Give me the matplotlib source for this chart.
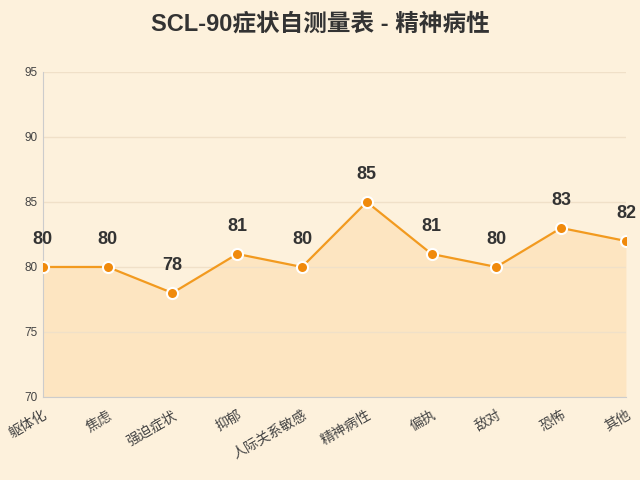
import matplotlib
matplotlib.use("Agg")
import matplotlib.pyplot as plt

plt.rcParams['font.family'] = ['Liberation Sans', 'Noto Sans CJK SC', 'DejaVu Sans']

categories = ["躯体化", "焦虑", "强迫症状", "抑郁", "人际关系敏感", "精神病性", "偏执", "敌对", "恐怖", "其他"]
values = [80, 80, 78, 81, 80, 85, 81, 80, 83, 82]

bg = "#FDF1DC"
fig = plt.figure(figsize=(6.4, 4.8), dpi=100, facecolor=bg)
ax = fig.add_axes([0.067, 0.173, 0.911, 0.677], facecolor=bg)
x = list(range(len(categories)))
ax.fill_between(x, values, 70, color="#FDDDB0", alpha=0.6, linewidth=0)
ax.plot(x, values, color="#F29A1F", linewidth=1.6, marker="o", markersize=8,
        markerfacecolor="#F08A0C", markeredgecolor="white", markeredgewidth=1.5, zorder=3)
for xi, v in zip(x, values):
    ax.text(xi, v + 1.45, str(v), ha="center", va="bottom", fontsize=13, fontweight="bold", color="#333333")
ax.set_xlim(0, 9)
ax.set_ylim(70, 95)
ax.set_yticks([70, 75, 80, 85, 90, 95])
ax.set_xticks(x)
ax.set_xticklabels(categories, rotation=30, ha="right", rotation_mode="anchor", fontsize=10, color="#444444")
ax.tick_params(axis="y", labelsize=8.5, colors="#444444", length=0)
ax.tick_params(axis="x", length=0, pad=8)
ax.grid(axis="y", color="#F0E0C8", linewidth=1)
for s in ["top", "right"]:
    ax.spines[s].set_visible(False)
for s in ["left", "bottom"]:
    ax.spines[s].set_color("#CCCCCC")
fig.text(0.5, 0.95, "SCL-90症状自测量表 - 精神病性", ha="center", va="center",
         fontsize=17, fontweight="bold", color="#333333")
fig.savefig("out.png", dpi=100, facecolor=bg)
